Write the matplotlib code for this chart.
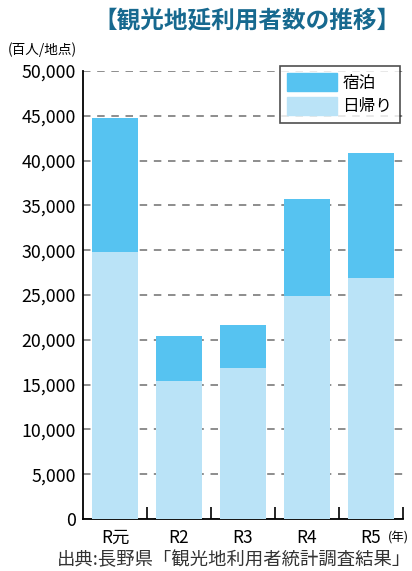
import matplotlib.pyplot as plt
from matplotlib.patches import Patch
import numpy as np

plt.rcParams['font.family'] = ['Noto Sans CJK JP', 'DejaVu Sans']

# 観光地延利用者数（百人/地点）
years = ['R元', 'R2', 'R3', 'R4', 'R5']
higaeri = [29800, 15400, 16800, 24900, 26900]   # 日帰り
shukuhaku = [15000, 5050, 4900, 10800, 14000]   # 宿泊（上積み分）

c_stay = '#56c3f1'
c_day = '#bae3f7'

fig = plt.figure(figsize=(4.12, 5.71), dpi=100)
ax = fig.add_axes([0.2015, 0.0911, 0.7767, 0.7846])

x = np.arange(len(years))
ax.bar(x, higaeri, width=0.73, color=c_day, zorder=3)
ax.bar(x, shukuhaku, bottom=higaeri, width=0.73, color=c_stay, zorder=3)

ax.set_xlim(-0.5, len(years) - 0.5)
ax.set_ylim(0, 50000)
ax.set_yticks(np.arange(0, 50001, 5000))
ax.set_yticklabels([f'{v:,}' for v in range(0, 50001, 5000)], fontsize=12.8)
ax.yaxis.grid(True, linestyle=(0, (4.5, 4)), color='#7a7a7a', linewidth=1.2, zorder=0)
ax.tick_params(axis='y', length=0, pad=5)

# 区切りの目盛り
ax.set_xticks(x + 0.5, minor=True)
ax.set_xticks(x)
ax.set_xticklabels(years, fontsize=12.5)
ax.tick_params(axis='x', which='major', length=0, pad=7)
ax.tick_params(axis='x', which='minor', direction='in', length=9, width=1.2)

for s in ['top', 'right']:
    ax.spines[s].set_visible(False)
ax.spines['left'].set_linewidth(1.3)
ax.spines['bottom'].set_linewidth(1.3)

handles = [Patch(color=c_stay, label='宿泊'), Patch(color=c_day, label='日帰り')]
leg = ax.legend(handles=handles, loc='upper right', bbox_to_anchor=(0.99, 1.012),
                fontsize=12, frameon=True, fancybox=False, edgecolor='#222222',
                handlelength=3.0, handleheight=1.3, borderpad=0.45, labelspacing=0.3,
                handletextpad=0.3, borderaxespad=0)
leg.get_frame().set_linewidth(1.2)
leg.set_zorder(5)

fig.text(0.972, 0.962, '【観光地延利用者数の推移】', ha='right', va='center',
         fontsize=17, fontweight='bold', color='#17698f')
fig.text(0.018, 0.913, '(百人/地点)', ha='left', va='center', fontsize=9.8)
fig.text(0.942, 0.058, '(年)', ha='left', va='center', fontsize=9)
fig.text(0.998, 0.019, '出典:長野県「観光地利用者統計調査結果」', ha='right', va='center',
         fontsize=13.2, color='#333333')

fig.savefig('out.png', dpi=100)
